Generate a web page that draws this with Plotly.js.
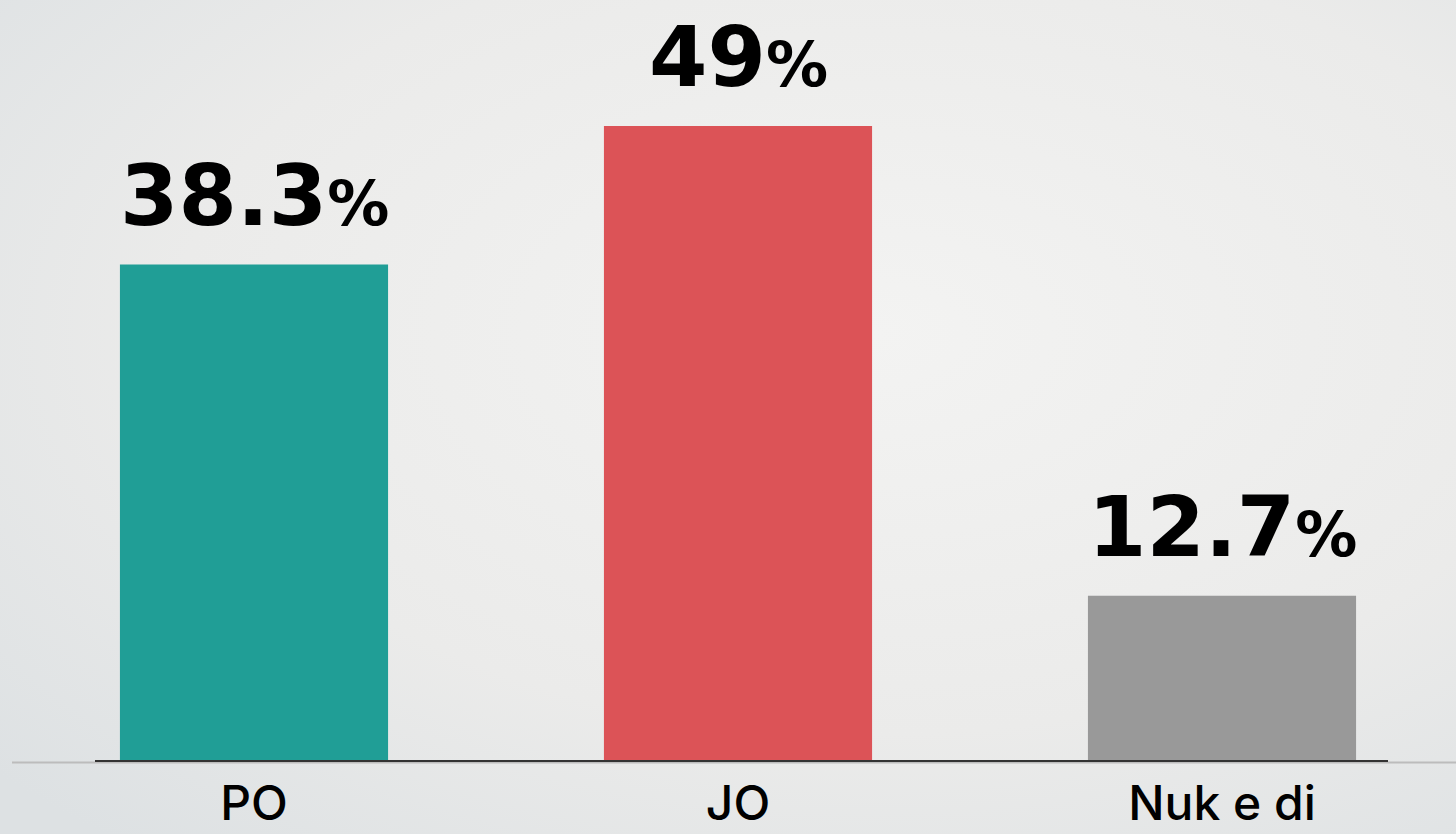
<!DOCTYPE html>
<html>
<head>
<meta charset="utf-8">
<script src="https://cdn.plot.ly/plotly-3.0.1.min.js"></script>
<style>
  html, body { margin: 0; padding: 0; }
  #chart { width: 1456px; height: 834px; }
</style>
</head>
<body>
<div id="chart"></div>
<script>
var categories = ['PO', 'JO', 'Nuk e di'];
var shares = [38.3, 49, 12.7];
var barColors = ['rgb(32,158,150)', 'rgb(220,83,87)', 'rgb(153,153,153)'];

// margins picked so the dark axis line runs 95..1388 and the baseline sits at y=760
var W = 1456, H = 834;
var mL = 95, mR = 68, mT = 20, mB = 74;
var plotW = W - mL - mR, plotH = H - mT - mB;
var step = 484;      // px between category centres
var firstX = 254;    // px centre of the first bar

var bg = "<svg xmlns='http://www.w3.org/2000/svg' width='1456' height='834'>" +
  "<defs><radialGradient id='g' cx='0.6' cy='0.4' r='0.8'>" +
  "<stop offset='0' stop-color='#f3f3f2'/><stop offset='0.6' stop-color='#ebebea'/>" +
  "<stop offset='1' stop-color='#dde1e3'/></radialGradient></defs>" +
  "<rect width='1456' height='834' fill='url(#g)'/></svg>";

var bars = {
  type: 'bar',
  x: categories,
  y: shares,
  marker: { color: barColors },
  hoverinfo: 'skip'
};

var labels = shares.map(function (v, i) {
  return {
    x: categories[i],
    y: v,
    xref: 'x', yref: 'y',
    yanchor: 'bottom',
    yshift: 18,
    showarrow: false,
    text: v + "<span style='font-size:62px'>%</span>",
    font: { family: 'DejaVu Sans', size: 84, weight: 700, color: '#000' }
  };
});

var layout = {
  width: W, height: H,
  margin: { l: mL, r: mR, t: mT, b: mB, pad: 0 },
  paper_bgcolor: '#e9eaea',
  plot_bgcolor: 'rgba(0,0,0,0)',
  showlegend: false,
  bargap: 0.446,
  xaxis: {
    range: [(mL - firstX) / step, (W - mR - firstX) / step],
    showgrid: false,
    zeroline: false,
    showline: true,
    linecolor: '#333',
    linewidth: 2,
    ticks: '',
    tickfont: { family: 'Inter', size: 48, weight: 500, color: '#000' },
    fixedrange: true
  },
  yaxis: {
    range: [0, plotH / 12.937],
    visible: false,
    fixedrange: true
  },
  images: [{
    source: 'data:image/svg+xml;charset=utf-8,' + encodeURIComponent(bg),
    xref: 'paper', yref: 'paper',
    x: -mL / plotW, y: 1 + mT / plotH,
    sizex: W / plotW, sizey: H / plotH,
    xanchor: 'left', yanchor: 'top',
    sizing: 'stretch',
    layer: 'below'
  }],
  shapes: [{
    type: 'line', xref: 'paper', yref: 'paper', layer: 'below',
    x0: (12 - mL) / plotW, x1: (W - mL) / plotW,
    y0: -2.5 / plotH, y1: -2.5 / plotH,
    line: { color: '#bcbcbc', width: 2 }
  }],
  annotations: labels
};

Plotly.newPlot('chart', [bars], layout, { displayModeBar: false, staticPlot: true });
</script>
</body>
</html>
